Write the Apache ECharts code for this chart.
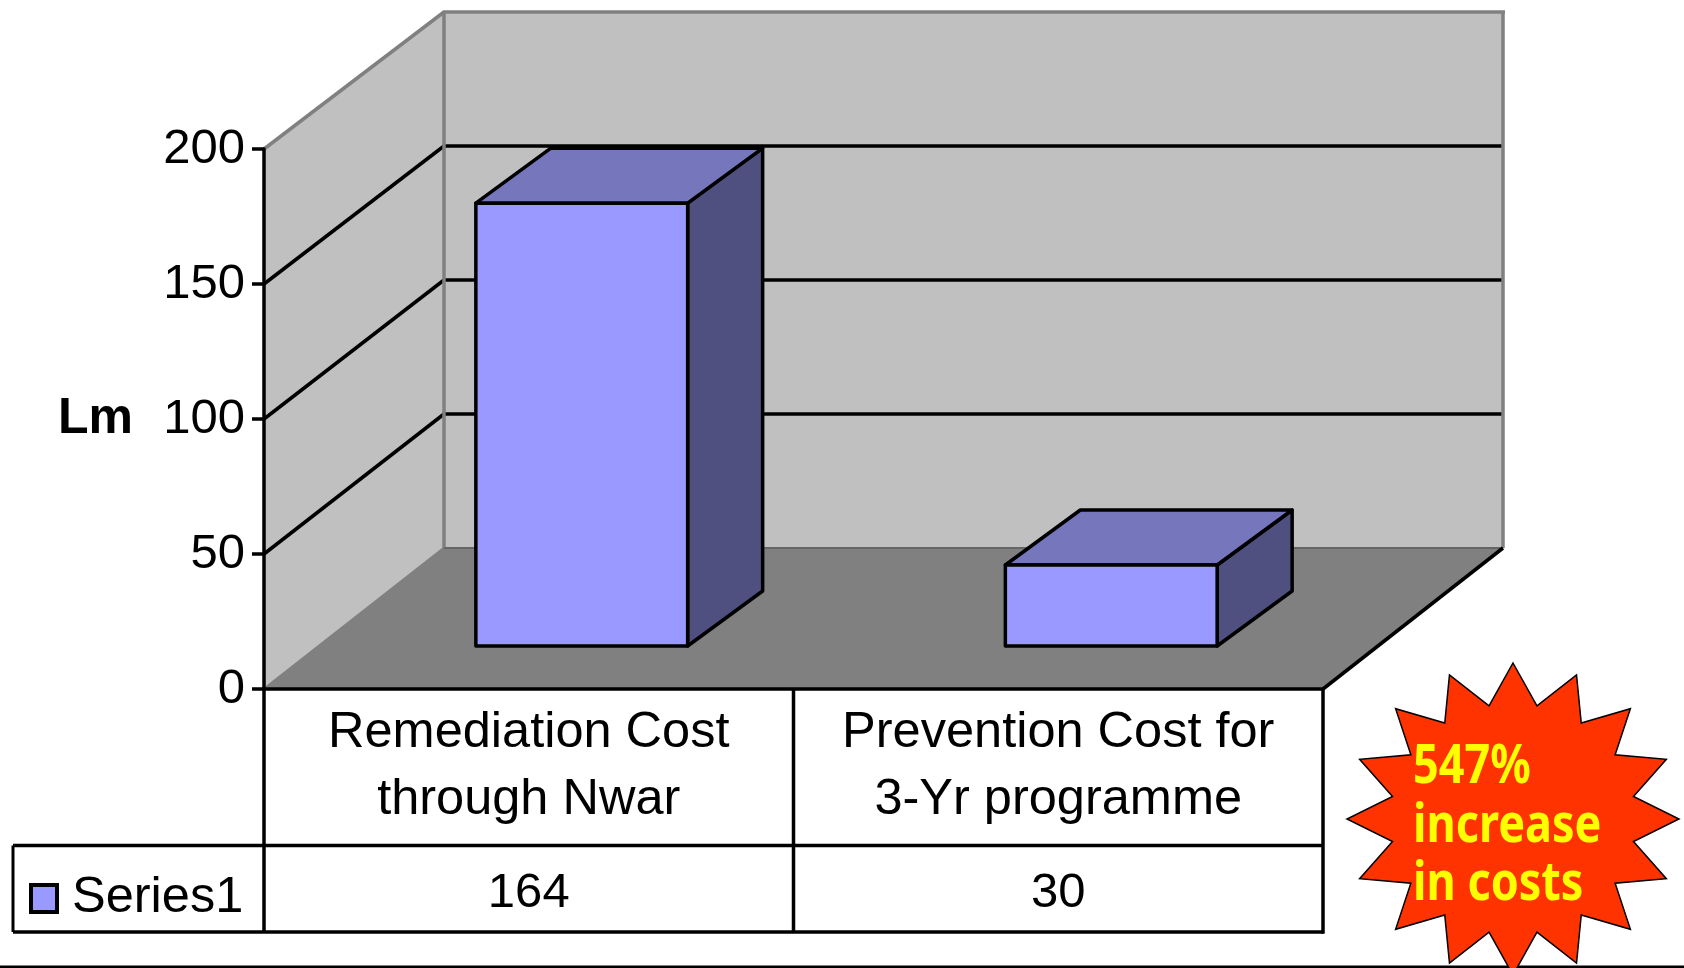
<!DOCTYPE html>
<html>
<head>
<meta charset="utf-8">
<title>Remediation vs prevention cost</title>
<script src="https://cdn.jsdelivr.net/npm/echarts@6/dist/echarts.min.js"></script>
<style>html,body{margin:0;padding:0;background:#fff}#chart{width:1684px;height:968px}</style>
</head>
<body>
<div id="chart"></div>
<script>
// Chart content
const categories = ['Remediation Cost\nthrough Nwar', 'Prevention Cost for\n3-Yr programme'];
const seriesName = 'Series1';
const seriesValues = [164, 30];
const yTicks = [0, 50, 100, 150, 200];
const axisTitle = 'Lm';
const calloutLines = ['547%', 'increase', 'in costs'];

// Oblique projection of the 3D box, in pixels
const roomDepth = { x: 180, floorY: -141, topY: -137 };
const barInset = { x: 53, y: -43 };
const barDepth = { x: 75, y: -55 };
const barBandShare = 0.4;

// Data table under the floor
const tableLeft = 13;
const tableRowY = 845.5;
const tableBottom = 932;

const FONT = '"Liberation Sans", Arial, sans-serif';
const INK = '#000';
const WALL = '#c0c0c0';
const FLOOR = '#808080';
const EDGE = '#808080';

const chart = echarts.init(document.getElementById('chart'));

function poly(points, fill, stroke, lineWidth) {
  return { type: 'polygon', shape: { points }, style: { fill, stroke, lineWidth, lineJoin: 'round' } };
}
function line(x1, y1, x2, y2, stroke, lineWidth) {
  return { type: 'line', shape: { x1, y1, x2, y2 }, style: { stroke, lineWidth, lineCap: 'butt' } };
}

// Walls, floor, slanted and back gridlines, table rules
function renderRoom(params, api) {
  const g = params.coordSys;
  const L = g.x, R = g.x + g.width, T = g.y, B = g.y + g.height;
  const dx = roomDepth.x;
  const backTop = T + roomDepth.topY, backFloor = B + roomDepth.floorY;
  const backY = function (y) { return backFloor - (B - y) * (backFloor - backTop) / (B - T); };
  const kids = [];
  kids.push(poly([[L + dx, backTop], [R + dx, backTop], [R + dx, backFloor], [L + dx, backFloor]], WALL, null, 0));
  kids.push(poly([[L, T], [L + dx, backTop], [L + dx, backFloor], [L, B]], WALL, null, 0));
  kids.push(poly([[L, B], [L + dx, backFloor], [R + dx, backFloor], [R, B]], FLOOR, null, 0));
  yTicks.slice(1, -1).forEach(function (t) {
    const y = api.coord([0, t])[1];
    kids.push(line(L, y, L + dx, backY(y), INK, 3.5));
    kids.push(line(L + dx, backY(y), R + dx, backY(y), INK, 3.5));
  });
  kids.push(line(L, B, L + dx, backFloor, EDGE, 2.5));
  kids.push(line(L, T, L + dx, backTop, EDGE, 3.5));
  kids.push(line(L + dx, backTop, L + dx, backFloor, EDGE, 3.5));
  kids.push(line(L + dx - 1, backTop, R + dx + 2, backTop, EDGE, 3.5));
  kids.push(line(R + dx, backTop, R + dx, backFloor, EDGE, 3.5));
  kids.push(line(L + dx, backFloor, R + dx, backFloor, '#666', 2));
  kids.push(line(R, B, R + dx, backFloor, INK, 3.5));

  const mid = (L + R) / 2;
  kids.push(line(R, B, R, tableBottom + 1.75, INK, 3.5));
  kids.push(line(mid, B, mid, tableBottom, INK, 3.5));
  kids.push(line(L, B, L, tableBottom, INK, 3.5));
  kids.push(line(tableLeft, tableRowY, tableLeft, tableBottom, INK, 3));
  kids.push(line(tableLeft, tableRowY, R, tableRowY, INK, 3.5));
  kids.push(line(tableLeft, tableBottom, R, tableBottom, INK, 3.5));
  return { type: 'group', children: kids };
}

// One extruded bar plus its value in the data table
function renderBar(params, api) {
  const i = api.value(0), v = api.value(1);
  const top = api.coord([i, v]), base = api.coord([i, 0]);
  const w = api.size([1, 0])[0] * barBandShare;
  const x0 = top[0] - w / 2 + barInset.x, x1 = x0 + w;
  const y0 = top[1] + barInset.y, y1 = base[1] + barInset.y;
  const dx = barDepth.x, dy = barDepth.y;
  return {
    type: 'group',
    children: [
      poly([[x1, y0], [x1 + dx, y0 + dy], [x1 + dx, y1 + dy], [x1, y1]], '#4f4f80', INK, 3.5),
      poly([[x0, y0], [x0 + dx, y0 + dy], [x1 + dx, y0 + dy], [x1, y0]], '#7676bd', INK, 3.5),
      poly([[x0, y0], [x1, y0], [x1, y1], [x0, y1]], '#9999ff', INK, 3.5),
      {
        type: 'text',
        style: {
          text: String(v), x: top[0], y: 893, align: 'center', verticalAlign: 'middle',
          fill: INK, font: '49px ' + FONT
        }
      }
    ]
  };
}

// Sixteen-point burst behind the callout text
function burstPoints(cx, cy, rx, ry, innerRatio, spikes) {
  const pts = [];
  for (let k = 0; k < spikes * 2; k++) {
    const a = Math.PI * k / spikes;
    const r = k % 2 ? innerRatio : 1;
    pts.push([cx + rx * r * Math.sin(a), cy - ry * r * Math.cos(a)]);
  }
  return pts;
}

const calloutGraphics = [
  { type: 'rect', z: 20, silent: true, shape: { x: 0, y: 965.5, width: 1684, height: 2.5 }, style: { fill: INK } },
  {
    type: 'polygon', z: 21, silent: true,
    shape: { points: burstPoints(1513, 819, 166, 156, 0.74, 16) },
    style: { fill: '#ff3300', stroke: INK, lineWidth: 1.5 }
  }
].concat(calloutLines.map(function (t, i) {
  return {
    type: 'text', z: 22, silent: true, x: 1413, y: [741, 800, 858][i], scaleY: 1.2,
    style: {
      text: t, fill: '#ffff00', align: 'left', verticalAlign: 'top',
      font: 'bold 45px "Noto Sans", sans-serif'
    }
  };
}));

chart.setOption({
  animation: false,
  backgroundColor: '#fff',
  grid: { left: 264, top: 149, width: 1059, height: 540, containLabel: false },
  legend: {
    data: [{ name: seriesName, icon: 'rect' }],
    left: 24, top: 868, itemWidth: 26, itemHeight: 27, selectedMode: false,
    itemStyle: { color: '#9999ff', borderColor: INK, borderWidth: 4 },
    textStyle: { fontFamily: FONT, fontSize: 50.5, color: INK, padding: [0, 0, 0, 10] }
  },
  xAxis: {
    type: 'category',
    data: categories,
    z: 5,
    axisLine: { show: true, lineStyle: { color: INK, width: 3.5 } },
    axisTick: { show: false },
    axisLabel: { interval: 0, margin: 11, fontFamily: FONT, fontSize: 50.5, lineHeight: 67, color: INK },
    splitLine: { show: false }
  },
  yAxis: {
    type: 'value', min: 0, max: 200, interval: 50,
    z: 5,
    name: axisTitle,
    nameLocation: 'middle',
    nameRotate: 0,
    nameGap: 131,
    nameTextStyle: { fontFamily: FONT, fontSize: 50, fontWeight: 'bold', color: INK },
    axisLine: { show: true, lineStyle: { color: INK, width: 3.5 } },
    axisTick: { show: true, length: 12, lineStyle: { color: INK, width: 3.5 } },
    axisLabel: { margin: 19, fontFamily: FONT, fontSize: 49, color: INK },
    splitLine: { show: false }
  },
  series: [
    { type: 'custom', name: 'room', silent: true, z: 1, clip: false, renderItem: renderRoom, data: [0] },
    {
      type: 'custom', name: seriesName, silent: true, z: 3, clip: false,
      itemStyle: { color: '#9999ff', borderColor: INK, borderWidth: 4 },
      renderItem: renderBar,
      encode: { x: 0, y: 1 },
      data: seriesValues.map(function (v, i) { return [i, v]; })
    }
  ],
  graphic: calloutGraphics
});
</script>
</body>
</html>
